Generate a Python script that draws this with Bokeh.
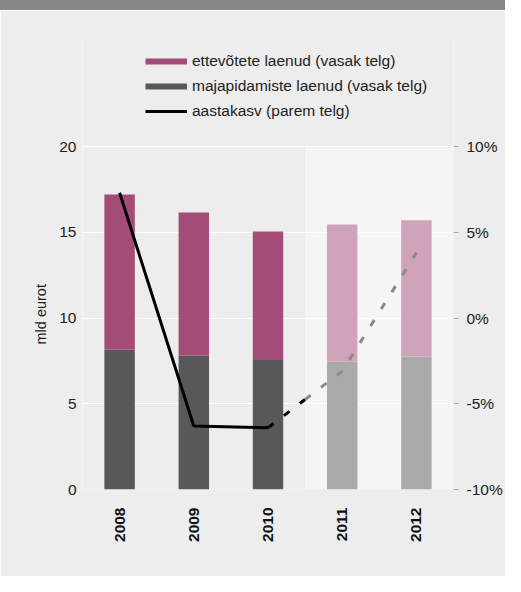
import math
from bokeh.plotting import figure
from bokeh.models import (ColumnDataSource, Range1d, LinearAxis, FixedTicker,
                          PrintfTickFormatter, Legend, LegendItem, Div, Title)
from bokeh.layouts import column
from bokeh.transform import stack
from bokeh.embed import file_html
from bokeh.resources import INLINE

# ---- data ----
years = ["2008", "2009", "2010", "2011", "2012"]
forecast_years = ["2011", "2012"]
household = [8.15, 7.8, 7.55, 7.45, 7.75]      # majapidamiste laenud, mld eurot
corporate = [9.05, 8.35, 7.5, 8.0, 7.95]       # ettevõtete laenud, mld eurot
growth_years = ["2008", "2009", "2010"]
growth = [7.3, -6.3, -6.4]                      # aastakasv, %
growth_fc_years = ["2011", "2012"]
growth_fc = [-3.1, 3.8]                         # aastakasv prognoos, %
left_ticks = [0, 5, 10, 15, 20]
right_ticks = [-10, -5, 0, 5, 10]
y_label = "mld eurot"
legend_labels = ["ettevõtete laenud (vasak telg)",
                 "majapidamiste laenud (vasak telg)",
                 "aastakasv (parem telg)"]

# ---- styles / layout ----
BG = "#ECEDEC"
SHADE = "#F5F5F5"
CORP = "#A34C77"
CORP_FC = "#D0A3BB"
HH = "#58585A"
HH_FC = "#AAAAAA"
FONT = "Liberation Sans"
TXT = "#222222"
FS = "15.5px"

W = 505
BANNER_H = 10
H = 576 - BANNER_H
AXIS_PX = 343          # pixel height of the 0..20 axis span
EXTRA_PX = 110         # empty frame space above the axes (holds the legend)
BORDER_L, BORDER_R, BORDER_B = 82, 47, 87
FRAME_H = AXIS_PX + EXTRA_PX
BORDER_T = H - BORDER_B - FRAME_H
LEG_GLYPH_H, LEG_SPACING = 18, 7
LEG_TOP_GAP = 16       # legend top below the frame top
LEG_H = len(legend_labels) * LEG_GLYPH_H + (len(legend_labels) - 1) * LEG_SPACING
YTITLE_OFFSET = 145    # y-axis title start above the frame bottom

y_lo, y_hi = left_ticks[0], left_ticks[-1]
p_lo, p_hi = right_ticks[0], right_ticks[-1]
scale = FRAME_H / AXIS_PX

src = ColumnDataSource(dict(
    year=years, hh=household, corp=corporate,
    hh_col=[HH_FC if y in forecast_years else HH for y in years],
    corp_col=[CORP_FC if y in forecast_years else CORP for y in years],
))

p = figure(x_range=years,
           y_range=Range1d(y_lo, y_lo + (y_hi - y_lo) * scale),
           width=W, height=H, output_backend="svg", toolbar_location=None,
           min_border_left=BORDER_L, min_border_right=BORDER_R,
           min_border_top=BORDER_T, min_border_bottom=BORDER_B)
p.extra_y_ranges = {"pct": Range1d(p_lo, p_lo + (p_hi - p_lo) * scale)}
p.background_fill_color = BG
p.border_fill_color = BG
p.outline_line_color = None
p.margin = 0

# shaded forecast area
i0 = years.index(forecast_years[0])
p.quad(left=[i0], right=[len(years)], bottom=[y_lo], top=[y_hi],
       fill_color=SHADE, line_color=None, level="image")

# bars
p.vbar(x="year", bottom=0, top=stack("hh"), width=0.41, source=src,
       fill_color="hh_col", line_color=None)
p.vbar(x="year", bottom=stack("hh"), top=stack("hh", "corp"), width=0.41,
       source=src, fill_color="corp_col", line_color=None)

# growth line
p.line(x=growth_years, y=growth, y_range_name="pct", line_color="black",
       line_width=3)
xa = years.index(growth_years[-1]) + 0.5
xb = years.index(growth_fc_years[0]) + 0.5
xm = (xa + xb) / 2
ym = (growth[-1] + growth_fc[0]) / 2
p.line(x=[xa, xm], y=[growth[-1], ym], y_range_name="pct", line_color="black",
       line_width=3, line_dash="7 13")
p.line(x=[xm] + [years.index(y) + 0.5 for y in growth_fc_years],
       y=[ym] + growth_fc, y_range_name="pct", line_color="#8A8A8A",
       line_width=3, line_dash="7 13")

# axes
p.xgrid.grid_line_color = None
p.ygrid.grid_line_color = "white"
p.ygrid.grid_line_width = 1
p.ygrid.ticker = FixedTicker(ticks=left_ticks)

p.yaxis.ticker = FixedTicker(ticks=left_ticks)
p.yaxis.axis_line_color = None
p.yaxis.major_tick_line_color = None
p.yaxis.minor_tick_line_color = None
p.yaxis.major_tick_out = 0
p.yaxis.major_label_standoff = 6
p.yaxis.major_label_text_font = FONT
p.yaxis.major_label_text_font_size = FS
p.yaxis.major_label_text_color = TXT

# y-axis title placed along the 0..20 span (not the taller frame)
ytitle = Title(text=y_label, align="left", offset=YTITLE_OFFSET,
               standoff=15, text_font=FONT, text_font_style="normal",
               text_font_size="14.5px", text_color=TXT)
p.add_layout(ytitle, "left")

ra = LinearAxis(y_range_name="pct", ticker=FixedTicker(ticks=right_ticks),
                formatter=PrintfTickFormatter(format="%d%%"))
ra.axis_line_color = None
ra.major_tick_line_color = "#AAAAAA"
ra.major_tick_out = 5
ra.major_tick_in = 0
ra.minor_tick_line_color = None
ra.major_label_standoff = 8
ra.major_label_text_font = FONT
ra.major_label_text_font_size = FS
ra.major_label_text_color = TXT
p.add_layout(ra, "right")

p.xaxis.axis_line_color = None
p.xaxis.major_tick_line_color = None
p.xaxis.major_tick_out = 0
p.xaxis.major_label_standoff = 18
p.xaxis.major_label_orientation = math.pi / 2
p.xaxis.major_label_text_font = FONT
p.xaxis.major_label_text_font_style = "bold"
p.xaxis.major_label_text_font_size = FS
p.xaxis.major_label_text_color = "#111111"

# legend with proxy renderers (one NaN point: nothing drawn in the plot)
nan = float("nan")
r1 = p.line(x=[years[0]], y=[nan], line_color=CORP, line_width=6)
r2 = p.line(x=[years[0]], y=[nan], line_color=HH, line_width=6)
r3 = p.line(x=[years[0]], y=[nan], line_color="black", line_width=3)
legend = Legend(items=[LegendItem(label=legend_labels[0], renderers=[r1]),
                       LegendItem(label=legend_labels[1], renderers=[r2]),
                       LegendItem(label=legend_labels[2], renderers=[r3])],
                location=(63, FRAME_H - LEG_TOP_GAP - LEG_H),
                glyph_width=42, glyph_height=LEG_GLYPH_H,
                spacing=LEG_SPACING, padding=0, margin=0,
                border_line_color=None, background_fill_alpha=0,
                label_standoff=5, label_text_font=FONT,
                label_text_font_size=FS, label_text_color=TXT)
p.add_layout(legend, "center")

banner = Div(width=W, height=BANNER_H, margin=0,
             styles={"background-color": "#878787"})
layout = column(banner, p, spacing=0, margin=0)

open("out.html", "w").write(file_html(layout, INLINE))
